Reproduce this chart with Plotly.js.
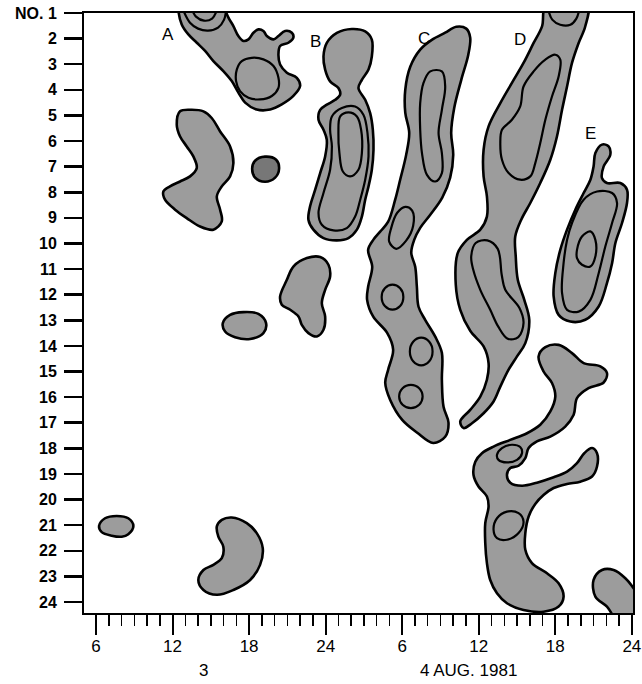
<!DOCTYPE html>
<html><head><meta charset="utf-8">
<script src="https://cdn.plot.ly/plotly-3.0.1.min.js"></script>
<style>html,body{margin:0;padding:0;background:#fff}</style>
</head><body><div id="chart" style="width:642px;height:684px"></div>
<script>
// ---- axis labels ----
const stationVals = [1,2,3,4,5,6,7,8,9,10,11,12,13,14,15,16,17,18,19,20,21,22,23,24];
const stationText = ['NO. 1','2','3','4','5','6','7','8','9','10','11','12','13','14','15','16','17','18','19','20','21','22','23','24'];
const hourAlias = {'30':'6','36':'12','42':'18','48':'24'};
const dayLabels = ['3','4 AUG. 1981'];
const dayLabelX = [14.39, 35.18];
const bandLabels = ['A','B','C','D','E'];
const bandLabelX = [11.67, 23.18, 31.67, 39.25, 44.75];
const bandLabelY = [1.85, 2.11, 1.98, 2.04, 5.69];

// ---- outer contours (hour since 3 Aug 00h, station no.) ----
const aOutX = [12.46,12.72,13.24,13.90,14.55,15.20,15.98,16.64,17.16,17.69,18.60,19.65,20.56,21.47,22.00,21.74,20.96,20.43,20.30,20.43,21.08,21.47,21.35,20.82,20.30,19.91,19.39,19.12,18.73,18.34,17.95,17.55,17.16,16.77,16.38,16.12,16.0,12.6];
const aOutY = [0.85,1.445,1.836,2.16,2.48,2.875,3.27,3.66,4.11,4.50,4.77,4.77,4.57,4.24,3.85,3.53,3.33,3.01,2.62,2.29,2.16,1.96,1.77,1.70,1.90,2.03,1.90,1.70,1.64,1.77,2.03,2.09,1.90,1.51,1.18,0.85,0.3,0.3];
const a2OutX = [12.59,13.51,14.42,15.07,15.73,16.51,16.77,16.51,15.86,15.47,15.73,15.86,15.20,14.16,13.11,12.20,11.41,11.28,11.80,12.59,13.37,13.90,13.63,13.11,12.59,12.33];
const a2OutY = [4.84,4.78,4.84,5.10,5.625,6.21,6.86,7.38,7.77,8.16,8.68,9.14,9.46,9.34,9.01,8.68,8.29,7.97,7.77,7.58,7.38,7.05,6.60,6.21,5.82,5.36];
const dotX = [18.24,18.47,19.25,20.12,20.35,20.04,19.25,18.47];
const dotY = [7.08,6.77,6.61,6.73,7.08,7.43,7.59,7.43];
const bOutX = [24.09,24.88,26.05,27.10,27.62,27.62,27.36,26.84,26.57,27.10,27.49,27.70,27.75,27.62,27.36,27.10,26.84,26.45,25.79,24.88,23.83,23.04,22.65,22.78,23.18,23.57,23.96,24.09,23.83,23.44,23.57,24.09,24.75,25.14,25.00,24.35,23.96,23.83];
const bOutY = [2.17,1.78,1.625,1.72,2.04,2.70,3.21,3.61,3.93,4.39,4.91,5.56,6.34,7.12,7.77,8.29,8.95,9.46,9.79,9.88,9.79,9.46,9.07,8.55,7.90,7.25,6.60,5.95,5.56,5.17,4.78,4.58,4.39,4.19,3.93,3.67,3.21,2.70];
const cOutX = [33.37,34.24,35.02,35.33,35.18,34.63,34.08,33.84,34.00,33.76,33.14,32.20,31.41,30.94,30.71,31.02,31.15,31.28,31.80,32.59,33.11,33.11,33.24,33.63,33.37,32.43,31.18,30.00,29.06,28.67,28.90,29.29,28.82,27.73,27.25,27.33,27.65,27.33,27.73,28.27,28.90,29.45,29.84,30.31,30.55,30.24,30.24,30.63,31.41,32.35];
const cOutY = [1.77,1.54,1.61,1.96,2.63,3.61,4.70,5.68,6.54,7.43,8.21,8.88,9.39,9.86,10.36,10.91,11.69,12.47,12.98,13.64,14.27,15.32,16.38,17.00,17.55,17.79,17.39,16.89,16.11,15.44,14.93,14.15,13.49,12.86,12.20,11.69,10.91,10.25,9.86,9.54,9.15,8.29,7.51,6.54,5.68,4.89,4.00,3.10,2.43,2.04];
const dOutX = [44.51,44.35,43.83,43.31,42.92,42.53,42.13,41.61,40.82,40.04,39.33,38.86,38.90,39.06,39.57,39.96,39.65,39.00,38.34,37.69,37.16,36.38,35.47,34.81,34.55,35.33,36.12,36.64,36.77,36.38,35.33,34.55,34.20,34.35,35.07,36.12,36.64,36.64,36.38,36.38,36.77,37.69,38.60,39.51,40.30,40.96,41.29];
const dOutY = [0.68,1.52,2.17,2.95,3.87,4.78,5.82,6.73,7.64,8.42,9.07,9.73,10.51,11.42,12.20,12.98,13.89,14.41,14.93,15.59,16.17,16.63,17.02,17.21,16.95,16.50,15.98,15.32,14.67,14.02,13.41,12.59,11.61,10.38,9.86,9.46,8.95,8.16,7.38,6.34,5.43,4.52,3.73,2.95,2.17,1.52,0.68];
const eOutX = [45.66,46.18,46.31,45.79,45.66,46.05,47.10,47.62,47.62,47.23,46.71,46.45,46.05,45.40,44.35,43.18,42.26,41.87,42.00,42.39,42.92,43.57,44.22,44.75,45.00,45.14];
const eOutY = [6.14,6.21,6.54,6.99,7.45,7.64,7.64,7.90,8.42,9.20,9.98,10.77,11.55,12.46,12.98,13.05,12.79,12.07,11.16,10.25,9.46,8.68,8.03,7.51,6.99,6.47];
const fOutX = [40.69,41.22,42.26,43.31,44.22,45.53,46.05,45.79,44.61,43.70,43.44,42.78,41.61,40.56,39.91,39.65,39.12,38.47,38.21,38.47,39.39,40.56,41.87,42.92,43.70,44.27,44.88,45.27,45.27,44.88,43.96,42.92,41.87,41.08,40.43,39.91,39.65,39.65,40.17,41.35,42.26,42.65,42.26,41.08,39.51,38.21,37.43,36.90,36.64,36.51,36.51,36.77,36.64,35.98,35.59,35.73,36.25,37.16,38.47,39.78,40.82,41.61,42.00,41.74,41.08];
const fOutY = [14.41,14.05,13.96,14.28,14.67,14.80,15.06,15.43,15.65,16.04,16.69,17.15,17.54,17.73,17.99,18.38,18.68,18.77,19.04,19.34,19.46,19.34,19.13,18.91,18.58,18.19,17.99,18.19,18.71,19.10,19.30,19.39,19.55,19.82,20.17,20.66,21.31,21.96,22.48,22.88,23.27,23.79,24.18,24.38,24.31,24.05,23.66,23.14,22.48,21.70,20.92,20.27,19.88,19.49,19.04,18.52,18.19,17.93,17.67,17.41,17.08,16.56,15.98,15.45,15.00];
const gOutX = [45.00,45.66,46.57,47.49,48.12,48.67,48.67,46.86,46.05,45.14];
const gOutY = [23.14,22.75,22.75,23.07,23.45,23.92,24.70,24.70,24.18,23.79];
const hOutX = [20.43,20.96,21.47,22.53,23.57,24.22,24.35,23.96,23.70,23.96,23.83,23.31,22.65,22.13,21.87,21.22,20.56];
const hOutY = [12.07,11.42,10.90,10.57,10.53,10.83,11.29,11.81,12.33,12.85,13.37,13.63,13.50,13.18,12.85,12.59,12.39];
const iOutX = [15.94,16.51,17.55,18.73,19.33,19.12,18.08,16.90,16.12];
const iOutY = [13.11,12.79,12.68,12.75,13.11,13.50,13.73,13.66,13.44];
const jOutX = [6.24,6.71,7.62,8.53,8.93,8.53,8.02,7.23,6.45];
const jOutY = [21.03,20.73,20.64,20.73,21.03,21.35,21.45,21.41,21.27];
const kOutX = [15.47,15.86,16.64,17.82,18.60,19.07,18.86,18.08,16.77,15.47,14.42,14.02,14.42,15.20,15.86,15.98,15.59];
const kOutY = [21.05,20.79,20.70,20.92,21.31,21.90,22.55,23.14,23.53,23.72,23.53,23.14,22.75,22.55,22.29,21.84,21.45];

// ---- inner contours ----
const aArc1X = [12.82,13.37,14.0,14.78,15.57,16.04,16.20];
const aArc1Y = [0.87,1.38,1.61,1.69,1.57,1.26,0.87];
const aArc2X = [13.53,13.84,14.47,15.10,15.49];
const aArc2Y = [0.87,1.14,1.30,1.22,0.87];
const aInX = [17.04,17.43,18.21,19.12,19.91,20.30,20.30,19.78,18.86,17.95,17.29,16.98];
const aInY = [3.20,2.875,2.75,2.81,3.07,3.53,3.92,4.24,4.375,4.31,4.05,3.66];
const bIn1X = [24.49,25.27,26.31,26.96,27.28,27.36,27.10,26.71,26.31,25.66,24.61,23.70,23.44,23.83,24.35,24.49,24.35];
const bIn1Y = [5.04,4.71,4.65,4.97,5.69,6.60,7.51,8.29,8.95,9.40,9.49,9.27,8.81,8.03,7.12,6.21,5.56];
const bIn2X = [25.14,25.79,26.45,26.78,26.84,26.57,25.92,25.35,25.08,25.00];
const bIn2Y = [5.04,4.88,5.04,5.56,6.47,7.12,7.38,7.19,6.47,5.69];
const cIn1X = [31.67,32.20,33.11,33.37,33.11,32.85,33.11,33.11,32.59,31.94,31.55,31.41,31.41];
const cIn1Y = [3.73,3.28,3.28,3.87,4.78,5.69,6.47,7.25,7.58,7.32,6.47,5.56,4.52];
const cIn2X = [28.98,29.14,29.61,30.24,30.78,30.86,30.31,29.53];
const cIn2Y = [9.93,9.39,8.80,8.57,8.72,9.31,9.89,10.21];
const cIn3X = [28.39,28.64,29.24,29.84,30.09,29.84,29.24,28.64];
const cIn3Y = [12.09,11.75,11.61,11.75,12.09,12.44,12.58,12.44];
const cIn4X = [30.60,30.86,31.49,32.12,32.38,32.12,31.49,30.86];
const cIn4Y = [14.22,13.84,13.68,13.84,14.22,14.60,14.76,14.60];
const cIn5X = [29.76,30.03,30.68,31.33,31.60,31.33,30.68,30.03];
const cIn5Y = [15.98,15.65,15.52,15.65,15.98,16.30,16.43,16.30];
const dArcX = [41.45,41.76,42.39,43.18,43.65,43.88];
const dArcY = [0.87,1.26,1.46,1.46,1.22,0.87];
const dIn1X = [37.69,37.82,38.60,39.25,39.51,40.30,41.22,42.00,42.39,42.26,41.74,41.22,40.82,40.43,40.04,39.25,38.34,37.82];
const dIn1Y = [6.08,5.56,5.17,4.65,3.87,3.28,2.82,2.63,2.82,3.48,4.26,5.17,6.08,6.86,7.38,7.51,7.25,6.73];
const dIn2X = [35.41,35.76,36.67,37.49,37.80,38.08,39.18,39.51,39.10,38.27,37.53,36.90,36.12,35.57];
const dIn2Y = [10.51,9.98,9.88,10.21,11.22,11.81,12.51,13.10,13.66,13.72,13.25,12.59,11.81,11.03];
const eIn1X = [43.31,44.22,45.27,46.45,46.84,46.45,45.92,45.40,44.75,43.83,42.92,42.53,42.65,42.92];
const eIn1Y = [9.20,8.29,7.97,8.03,8.42,9.20,10.12,11.16,12.20,12.66,12.59,11.94,10.77,9.86];
const eIn2X = [43.70,44.09,44.75,45.14,45.14,44.75,44.09,43.70];
const eIn2Y = [10.25,9.73,9.53,9.86,10.51,10.90,10.83,10.57];
const fIn1X = [37.43,37.82,38.60,39.25,39.39,39.00,38.21,37.55];
const fIn1Y = [18.25,17.99,17.86,17.95,18.19,18.45,18.55,18.45];
const fIn2X = [37.16,37.43,38.21,39.12,39.51,39.12,38.21,37.43];
const fIn2Y = [21.18,20.73,20.47,20.53,20.86,21.31,21.57,21.51];

const FONT = 'Liberation Sans, Arial, sans-serif';
const FILL = '#9c9c9c';
const traces = [];
function closeArr(a) { return a.concat([a[0]]); }
function outer(x, y, fill) {
  traces.push({type:'scatter', mode:'lines', x:closeArr(x), y:closeArr(y), fill:'toself',
    fillcolor: fill || FILL, line:{color:'#000', width:2.6, shape:'spline', smoothing:1},
    hoverinfo:'skip', showlegend:false});
}
function inner(x, y, closed) {
  traces.push({type:'scatter', mode:'lines', x: closed ? closeArr(x) : x, y: closed ? closeArr(y) : y,
    line:{color:'#000', width:2.2, shape:'spline', smoothing:1}, hoverinfo:'skip', showlegend:false});
}
outer(aOutX, aOutY); outer(a2OutX, a2OutY); outer(dotX, dotY, '#777777');
outer(bOutX, bOutY); outer(cOutX, cOutY); outer(dOutX, dOutY); outer(eOutX, eOutY);
outer(fOutX, fOutY); outer(gOutX, gOutY); outer(hOutX, hOutY); outer(iOutX, iOutY);
outer(jOutX, jOutY); outer(kOutX, kOutY);
inner(aArc1X, aArc1Y, false); inner(aArc2X, aArc2Y, false); inner(aInX, aInY, true);
inner(bIn1X, bIn1Y, true); inner(bIn2X, bIn2Y, true);
inner(cIn1X, cIn1Y, true); inner(cIn2X, cIn2Y, true); inner(cIn3X, cIn3Y, true);
inner(cIn4X, cIn4Y, true); inner(cIn5X, cIn5Y, true);
inner(dArcX, dArcY, false); inner(dIn1X, dIn1Y, true); inner(dIn2X, dIn2Y, true);
inner(eIn1X, eIn1Y, true); inner(eIn2X, eIn2Y, true);
inner(fIn1X, fIn1Y, true); inner(fIn2X, fIn2Y, true);

const annotations = [];
bandLabels.forEach((t, i) => annotations.push({x: bandLabelX[i], y: bandLabelY[i], xref:'x', yref:'y', text:t,
  showarrow:false, font:{family:FONT, size:17, color:'#000'}}));
dayLabels.forEach((t, i) => annotations.push({x: dayLabelX[i], y: -0.096, xref:'x', yref:'paper', text:t,
  showarrow:false, yanchor:'middle', font:{family:FONT, size:17, color:'#000'}}));

const layout = {
  width:642, height:684, margin:{l:84, r:9, t:13, b:71},
  paper_bgcolor:'#fff', plot_bgcolor:'#fff', showlegend:false,
  xaxis:{range:[5.06, 48.09], tickmode:'linear', tick0:0, dtick:6, labelalias: hourAlias,
    ticks:'outside', ticklen:20, tickwidth:2, tickcolor:'#000', ticklabelstandoff:-3,
    showline:true, linecolor:'#000', linewidth:2, mirror:true, showgrid:false, zeroline:false,
    minor:{tick0:0, dtick:1, ticks:'outside', ticklen:11, tickwidth:1.5, tickcolor:'#000', showgrid:false},
    tickfont:{family:FONT, size:17, color:'#000'}},
  yaxis:{range:[24.43, 1.0], tickmode:'array', tickvals: stationVals, ticktext: stationText,
    ticks:'outside', ticklen:18, tickwidth:2.5, tickcolor:'#000', ticklabelstandoff:4,
    showline:true, linecolor:'#000', linewidth:2, mirror:true, showgrid:false, zeroline:false,
    tickfont:{family:FONT, size:16, color:'#000', weight:700}},
  annotations: annotations
};
Plotly.newPlot('chart', traces, layout, {staticPlot:true, displayModeBar:false});
</script></body></html>
